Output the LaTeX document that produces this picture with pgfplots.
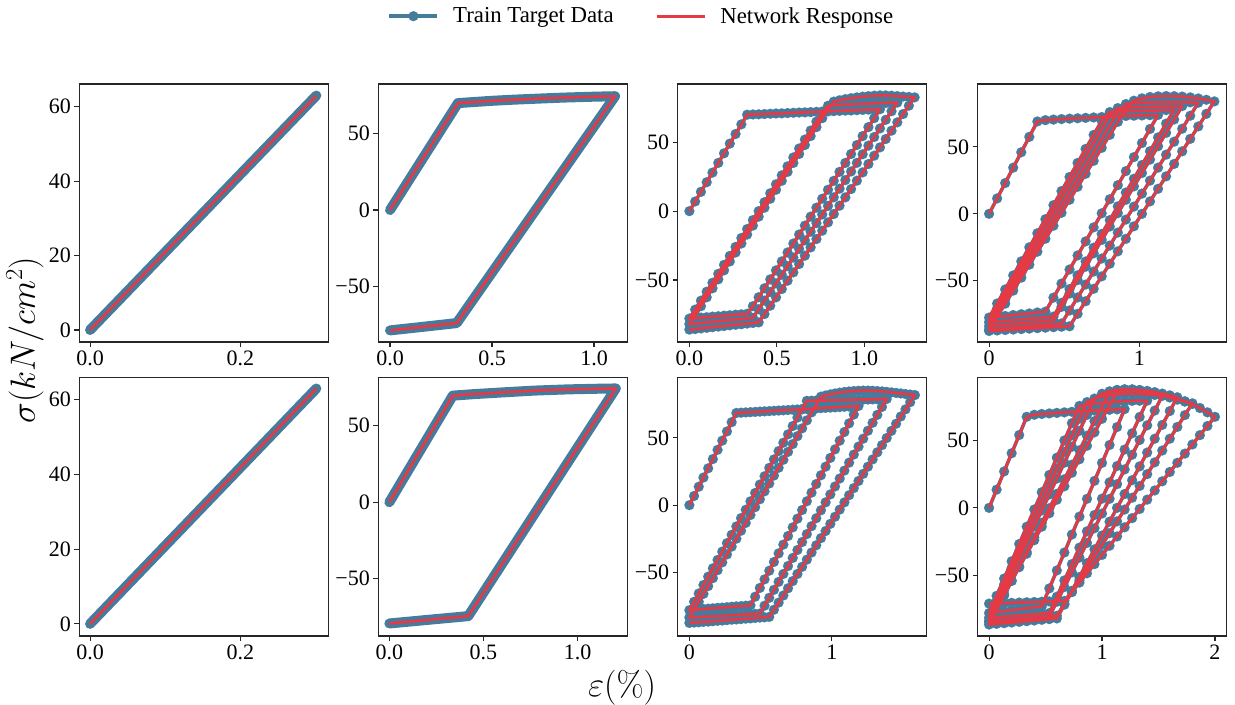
\documentclass[border=0pt]{standalone}
\usepackage{fix-cm}
\usepackage[no-math]{fontspec}
\setmainfont{Liberation Serif}
\usepackage{pgfplots}
\usepackage{pgfplotstable}
\pgfplotsset{compat=1.18}
\definecolor{tblue}{HTML}{457B9D}
\definecolor{tred}{HTML}{E63946}
\pgfplotsset{
 panel/.style={width=249bp, height=258bp, scale only axis, anchor=south west, tick pos=left, tick align=outside, major tick length=5bp,
   axis line style={line width=1.1bp, black!85}, tick style={line width=1.1bp, black!85},
   tick label style={font=\fontsize{22bp}{26bp}\selectfont, black}, clip=true, clip marker paths=true},
 blueband/.style={color=tblue, line width=10bp, line cap=round, line join=round, no marks},
 bluepts/.style={color=tblue, line width=3.5bp, mark=*, mark size=5bp, mark options={solid, fill=tblue, draw=tblue, line width=0.1bp}},
 redline/.style={color=tred, line width=2.7bp, no marks, line join=round},
}
\pgfplotstableread[row sep=\\]{x y\\ 0 0\\ 0.301 63\\}\Pone
\pgfplotstableread[row sep=\\]{x y\\ 0 0\\ 0.333 70\\ 0.4 70.6\\ 0.5 71.5\\ 0.6 72.2\\ 0.72 72.9\\ 0.85 73.6\\ 1.0 74.2\\ 1.103 74.5\\ 0.327 -74\\ 0.16 -76.5\\ 0 -78.8\\}\PtwoT
\pgfplotstableread[row sep=\\]{x y\\ 0 0\\ 0.337 69.7\\ 0.45 70.7\\ 0.6 71.8\\ 0.77 73.0\\ 0.95 73.8\\ 1.1 74.2\\ 1.203 74.4\\ 0.419 -74.5\\ 0.2 -77\\ 0 -79.3\\}\PtwoB
\pgfplotstableread[row sep=\\]{x y\\
0 0\\ 0.033 7\\ 0.066 14\\ 0.099 21\\ 0.132 28\\ 0.165 35\\ 0.198 42\\ 0.231 49\\ 0.264 56\\ 0.297 63\\ 0.33 70\\ 0.363 70.2\\ 0.396 70.3\\ 0.429 70.5\\ 0.462 70.7\\ 0.495 70.9\\ 0.528 71.0\\ 0.561 71.2\\ 0.594 71.4\\ 0.627 71.6\\ 0.66 71.7\\ 0.693 71.9\\ 0.726 72.1\\ 0.759 72.3\\ 0.792 72.4\\ 0.825 72.6\\ 0.858 72.8\\ 0.891 73.0\\ 0.924 73.1\\ 0.957 73.3\\ 0.99 73.5\\ 1.023 73.7\\ 1.056 73.8\\ 1.089 74.0\\
1.056 67.5\\ 1.023 61\\ 0.99 54.5\\ 0.957 48\\ 0.924 41.5\\ 0.891 35\\ 0.858 28.5\\ 0.825 22\\ 0.792 15.5\\ 0.759 9\\ 0.726 2.5\\ 0.693 -4\\ 0.66 -10.5\\ 0.627 -17\\ 0.594 -23.5\\ 0.561 -30\\ 0.528 -36.5\\ 0.495 -43\\ 0.462 -49.5\\ 0.429 -56\\ 0.396 -62.5\\ 0.363 -69\\ 0.33 -74.5\\ 0.297 -74.9\\ 0.264 -75.2\\ 0.231 -75.6\\ 0.198 -75.9\\ 0.165 -76.3\\ 0.132 -76.6\\ 0.099 -77.0\\ 0.066 -77.3\\ 0.033 -77.7\\ 0 -78.0\\
0.033 -71.5\\ 0.066 -65\\ 0.099 -58.5\\ 0.132 -52\\ 0.165 -45.5\\ 0.198 -39\\ 0.231 -32.5\\ 0.264 -26\\ 0.297 -19.5\\ 0.33 -13\\ 0.363 -6.5\\ 0.396 0\\ 0.429 6.5\\ 0.462 13\\ 0.495 19.5\\ 0.528 26\\ 0.561 32.5\\ 0.594 39\\ 0.627 45.5\\ 0.66 52\\ 0.693 58.5\\ 0.726 65\\ 0.759 71.5\\ 0.792 76.5\\ 0.825 76.9\\ 0.858 77.1\\ 0.891 77.3\\ 0.924 77.5\\ 0.957 77.7\\ 0.99 77.9\\ 1.023 78.1\\ 1.056 78.3\\ 1.089 78.4\\ 1.122 78.5\\ 1.155 78.7\\ 1.188 78.8\\
1.155 72.55\\ 1.122 66.3\\ 1.089 60.05\\ 1.056 53.8\\ 1.023 47.55\\ 0.99 41.3\\ 0.957 35.05\\ 0.924 28.8\\ 0.891 22.55\\ 0.858 16.3\\ 0.825 10.05\\ 0.792 3.8\\ 0.759 -2.45\\ 0.726 -8.7\\ 0.693 -14.95\\ 0.66 -21.2\\ 0.627 -27.45\\ 0.594 -33.7\\ 0.561 -39.95\\ 0.528 -46.2\\ 0.495 -52.45\\ 0.462 -58.7\\ 0.429 -64.95\\ 0.396 -71.2\\ 0.363 -77.45\\ 0.33 -77.9\\ 0.297 -78.3\\ 0.264 -78.7\\ 0.231 -79.1\\ 0.198 -79.5\\ 0.165 -79.9\\ 0.132 -80.3\\ 0.099 -80.8\\ 0.066 -81.2\\ 0.033 -81.6\\ 0 -82.0\\
0.033 -75.5\\ 0.066 -69\\ 0.099 -62.5\\ 0.132 -56\\ 0.165 -49.5\\ 0.198 -43\\ 0.231 -36.5\\ 0.264 -30\\ 0.297 -23.5\\ 0.33 -17\\ 0.363 -10.5\\ 0.396 -4\\ 0.429 2.5\\ 0.462 9\\ 0.495 15.5\\ 0.528 22\\ 0.561 28.5\\ 0.594 35\\ 0.627 41.5\\ 0.66 48\\ 0.693 54.5\\ 0.726 61\\ 0.759 67.5\\ 0.792 74\\ 0.825 79.5\\ 0.858 80.5\\ 0.891 81.3\\ 0.924 82.0\\ 0.957 82.6\\ 0.99 83.1\\ 1.023 83.5\\ 1.056 83.8\\ 1.089 84.0\\ 1.122 84.0\\ 1.155 83.8\\ 1.188 83.5\\ 1.221 83.2\\ 1.254 82.9\\ 1.287 82.6\\
1.254 76.55\\ 1.221 70.5\\ 1.188 64.45\\ 1.155 58.4\\ 1.122 52.35\\ 1.089 46.3\\ 1.056 40.25\\ 1.023 34.2\\ 0.99 28.15\\ 0.957 22.1\\ 0.924 16.05\\ 0.891 10.0\\ 0.858 3.95\\ 0.825 -2.1\\ 0.792 -8.15\\ 0.759 -14.2\\ 0.726 -20.25\\ 0.693 -26.3\\ 0.66 -32.35\\ 0.627 -38.4\\ 0.594 -44.45\\ 0.561 -50.5\\ 0.528 -56.55\\ 0.495 -62.6\\ 0.462 -68.65\\ 0.429 -74.7\\ 0.396 -80.75\\ 0.363 -81.2\\ 0.33 -81.6\\ 0.297 -82.1\\ 0.264 -82.5\\ 0.231 -82.9\\ 0.198 -83.4\\ 0.165 -83.8\\ 0.132 -84.25\\ 0.099 -84.7\\ 0.066 -85.1\\ 0.033 -85.6\\ 0 -86.0\\
}\PthreeT
\pgfplotstableread[row sep=\\]{x y\\
0 0\\ 0.0535 11.5\\ 0.107 23\\ 0.1605 34.5\\ 0.214 46\\ 0.2675 57.5\\ 0.321 69\\ 0.3745 70.0\\ 0.428 70.4\\ 0.4815 70.8\\ 0.535 71.1\\ 0.5885 71.4\\ 0.642 71.7\\ 0.6955 72.0\\ 0.749 72.3\\ 0.8025 72.6\\ 0.856 72.9\\ 0.9095 73.1\\ 0.963 73.3\\ 1.0165 73.5\\ 1.07 73.7\\ 1.1235 73.9\\
1.07 63.4\\ 1.0165 52.9\\ 0.963 42.4\\ 0.9095 31.9\\ 0.856 21.4\\ 0.8025 10.9\\ 0.749 0.4\\ 0.6955 -10.1\\ 0.642 -20.6\\ 0.5885 -31.1\\ 0.535 -41.6\\ 0.4815 -52.1\\ 0.428 -62.6\\ 0.3745 -73.1\\ 0.321 -73.7\\ 0.2675 -74.4\\ 0.214 -75.0\\ 0.1605 -75.6\\ 0.107 -76.3\\ 0.0535 -76.9\\ 0 -77.5\\
0.0535 -67\\ 0.107 -56.5\\ 0.1605 -46\\ 0.214 -35.5\\ 0.2675 -25\\ 0.321 -14.5\\ 0.3745 -4\\ 0.428 6.5\\ 0.4815 17\\ 0.535 27.5\\ 0.5885 38\\ 0.642 48.5\\ 0.6955 59\\ 0.749 69.5\\ 0.8025 76\\ 0.856 76.3\\ 0.9095 76.5\\ 0.963 76.7\\ 1.0165 76.9\\ 1.07 77.1\\ 1.1235 77.3\\ 1.177 77.5\\ 1.2305 77.7\\
1.177 67.4\\ 1.1235 57.1\\ 1.07 46.8\\ 1.0165 36.5\\ 0.963 26.2\\ 0.9095 15.9\\ 0.856 5.6\\ 0.8025 -4.7\\ 0.749 -15.0\\ 0.6955 -25.3\\ 0.642 -35.6\\ 0.5885 -45.9\\ 0.535 -56.2\\ 0.4815 -66.5\\ 0.428 -76.8\\ 0.3745 -77.3\\ 0.321 -77.9\\ 0.2675 -78.4\\ 0.214 -78.9\\ 0.1605 -79.4\\ 0.107 -80.0\\ 0.0535 -80.5\\ 0 -81.0\\
0.0535 -70.7\\ 0.107 -60.4\\ 0.1605 -50.1\\ 0.214 -39.8\\ 0.2675 -29.5\\ 0.321 -19.2\\ 0.3745 -8.9\\ 0.428 1.4\\ 0.4815 11.7\\ 0.535 22.0\\ 0.5885 32.3\\ 0.642 42.6\\ 0.6955 52.9\\ 0.749 63.2\\ 0.8025 73.5\\ 0.856 79.0\\ 0.9095 79.3\\ 0.963 79.6\\ 1.0165 79.8\\ 1.07 80.0\\ 1.1235 80.2\\ 1.177 80.3\\ 1.2305 80.4\\ 1.284 80.5\\
1.2305 70.5\\ 1.177 60.5\\ 1.1235 50.5\\ 1.07 40.5\\ 1.0165 30.5\\ 0.963 20.5\\ 0.9095 10.5\\ 0.856 0.5\\ 0.8025 -9.5\\ 0.749 -19.5\\ 0.6955 -29.5\\ 0.642 -39.5\\ 0.5885 -49.5\\ 0.535 -59.5\\ 0.4815 -69.5\\ 0.428 -79.5\\ 0.3745 -80.1\\ 0.321 -80.6\\ 0.2675 -81.2\\ 0.214 -81.75\\ 0.1605 -82.3\\ 0.107 -82.9\\ 0.0535 -83.4\\ 0 -84.0\\
0.0535 -74\\ 0.107 -64\\ 0.1605 -54\\ 0.214 -44\\ 0.2675 -34\\ 0.321 -24\\ 0.3745 -14\\ 0.428 -4\\ 0.4815 6\\ 0.535 16\\ 0.5885 26\\ 0.642 36\\ 0.6955 46\\ 0.749 56\\ 0.8025 66\\ 0.856 76\\ 0.9095 82.0\\ 0.963 82.6\\ 1.0165 83.0\\ 1.07 83.3\\ 1.1235 83.5\\ 1.177 83.6\\ 1.2305 83.6\\ 1.284 83.5\\ 1.3375 83.3\\ 1.391 83.0\\
1.3375 73.3\\ 1.284 63.6\\ 1.2305 53.9\\ 1.177 44.2\\ 1.1235 34.5\\ 1.07 24.8\\ 1.0165 15.1\\ 0.963 5.4\\ 0.9095 -4.3\\ 0.856 -14.0\\ 0.8025 -23.7\\ 0.749 -33.4\\ 0.6955 -43.1\\ 0.642 -52.8\\ 0.5885 -62.5\\ 0.535 -72.2\\ 0.4815 -81.9\\ 0.428 -82.4\\ 0.3745 -82.9\\ 0.321 -83.4\\ 0.2675 -83.9\\ 0.214 -84.5\\ 0.1605 -85.0\\ 0.107 -85.5\\ 0.0535 -86.0\\ 0 -86.5\\
0.0535 -76.8\\ 0.107 -67.1\\ 0.1605 -57.4\\ 0.214 -47.7\\ 0.2675 -38.0\\ 0.321 -28.3\\ 0.3745 -18.6\\ 0.428 -8.9\\ 0.4815 0.8\\ 0.535 10.5\\ 0.5885 20.2\\ 0.642 29.9\\ 0.6955 39.6\\ 0.749 49.3\\ 0.8025 59.0\\ 0.856 68.7\\ 0.9095 78.4\\ 0.963 84.5\\ 1.0165 86.3\\ 1.07 87.3\\ 1.1235 87.8\\ 1.177 88.0\\ 1.2305 87.9\\ 1.284 87.6\\ 1.3375 87.0\\ 1.391 86.2\\ 1.4445 85.2\\ 1.498 84.0\\
1.4445 74.7\\ 1.391 65.3\\ 1.3375 56.0\\ 1.284 46.7\\ 1.2305 37.3\\ 1.177 28.0\\ 1.1235 18.7\\ 1.07 9.3\\ 1.0165 0.0\\ 0.963 -9.3\\ 0.9095 -18.7\\ 0.856 -28.0\\ 0.8025 -37.3\\ 0.749 -46.7\\ 0.6955 -56.0\\ 0.642 -65.3\\ 0.5885 -74.7\\ 0.535 -84.0\\ 0.4815 -84.35\\ 0.428 -84.7\\ 0.3745 -85.05\\ 0.321 -85.4\\ 0.2675 -85.75\\ 0.214 -86.1\\ 0.1605 -86.45\\ 0.107 -86.8\\ 0.0535 -87.15\\ 0 -87.5\\
}\PfourT
\pgfplotstableread[row sep=\\]{x y\\
0 0\\ 0.033 6.85\\ 0.066 13.7\\ 0.099 20.55\\ 0.132 27.4\\ 0.165 34.25\\ 0.198 41.1\\ 0.231 47.95\\ 0.264 54.8\\ 0.297 61.65\\ 0.33 68.5\\ 0.363 68.7\\ 0.396 68.9\\ 0.429 69.1\\ 0.462 69.3\\ 0.495 69.5\\ 0.528 69.7\\ 0.561 69.9\\ 0.594 70.1\\ 0.627 70.3\\ 0.66 70.5\\ 0.693 70.7\\ 0.726 70.9\\ 0.759 71.1\\ 0.792 71.3\\ 0.825 71.5\\ 0.858 71.7\\ 0.891 71.9\\ 0.924 72.1\\ 0.957 72.3\\ 0.99 72.5\\ 1.023 72.7\\ 1.056 72.9\\ 1.089 73.1\\ 1.122 73.3\\ 1.155 73.5\\ 1.188 73.7\\
1.155 67.3\\ 1.122 60.8\\ 1.089 54.4\\ 1.056 47.9\\ 1.023 41.5\\ 0.99 35.1\\ 0.957 28.6\\ 0.924 22.2\\ 0.891 15.7\\ 0.858 9.3\\ 0.825 2.9\\ 0.792 -3.6\\ 0.759 -10.0\\ 0.726 -16.5\\ 0.693 -22.9\\ 0.66 -29.3\\ 0.627 -35.8\\ 0.594 -42.2\\ 0.561 -48.7\\ 0.528 -55.1\\ 0.495 -61.5\\ 0.462 -68.0\\ 0.429 -74.4\\ 0.396 -74.7\\ 0.363 -75.0\\ 0.33 -75.2\\ 0.297 -75.5\\ 0.264 -75.8\\ 0.231 -76.1\\ 0.198 -76.3\\ 0.165 -76.6\\ 0.132 -76.9\\ 0.099 -77.2\\ 0.066 -77.4\\ 0.033 -77.7\\ 0 -78.0\\
0.033 -71.8\\ 0.066 -65.6\\ 0.099 -59.3\\ 0.132 -53.1\\ 0.165 -46.9\\ 0.198 -40.7\\ 0.231 -34.5\\ 0.264 -28.2\\ 0.297 -22.0\\ 0.33 -15.8\\ 0.363 -9.6\\ 0.396 -3.4\\ 0.429 2.9\\ 0.462 9.1\\ 0.495 15.3\\ 0.528 21.5\\ 0.561 27.7\\ 0.594 34.0\\ 0.627 40.2\\ 0.66 46.4\\ 0.693 52.6\\ 0.726 58.8\\ 0.759 65.1\\ 0.792 71.3\\ 0.825 77.5\\ 0.858 77.6\\ 0.891 77.7\\ 0.924 77.75\\ 0.957 77.8\\ 0.99 77.9\\ 1.023 78.0\\ 1.056 78.0\\ 1.089 78.1\\ 1.122 78.2\\ 1.155 78.3\\ 1.188 78.4\\ 1.221 78.45\\ 1.254 78.5\\ 1.287 78.6\\ 1.32 78.7\\ 1.353 78.8\\ 1.386 78.9\\
1.353 73.0\\ 1.32 67.1\\ 1.287 61.2\\ 1.254 55.3\\ 1.221 49.4\\ 1.188 43.5\\ 1.155 37.6\\ 1.122 31.6\\ 1.089 25.7\\ 1.056 19.8\\ 1.023 13.9\\ 0.99 8.0\\ 0.957 2.1\\ 0.924 -3.8\\ 0.891 -9.7\\ 0.858 -15.6\\ 0.825 -21.5\\ 0.792 -27.4\\ 0.759 -33.3\\ 0.726 -39.2\\ 0.693 -45.2\\ 0.66 -51.1\\ 0.627 -57.0\\ 0.594 -62.9\\ 0.561 -68.8\\ 0.528 -74.7\\ 0.495 -80.6\\ 0.462 -80.8\\ 0.429 -81.0\\ 0.396 -81.2\\ 0.363 -81.4\\ 0.33 -81.6\\ 0.297 -81.8\\ 0.264 -82.0\\ 0.231 -82.2\\ 0.198 -82.4\\ 0.165 -82.6\\ 0.132 -82.7\\ 0.099 -82.9\\ 0.066 -83.1\\ 0.033 -83.3\\ 0 -83.5\\
0.033 -77.6\\ 0.066 -71.8\\ 0.099 -65.9\\ 0.132 -60.1\\ 0.165 -54.2\\ 0.198 -48.3\\ 0.231 -42.5\\ 0.264 -36.6\\ 0.297 -30.8\\ 0.33 -24.9\\ 0.363 -19.0\\ 0.396 -13.2\\ 0.429 -7.3\\ 0.462 -1.5\\ 0.495 4.4\\ 0.528 10.3\\ 0.561 16.1\\ 0.594 22.0\\ 0.627 27.8\\ 0.66 33.7\\ 0.693 39.6\\ 0.726 45.4\\ 0.759 51.3\\ 0.792 57.1\\ 0.825 63.0\\ 0.858 68.9\\ 0.891 74.7\\ 0.924 80.6\\ 0.957 81.5\\ 0.99 82.3\\ 1.023 83.0\\ 1.056 83.6\\ 1.089 84.1\\ 1.122 84.5\\ 1.155 84.8\\ 1.188 85.0\\ 1.221 85.1\\ 1.254 85.1\\ 1.287 85.0\\ 1.32 84.8\\ 1.353 84.5\\ 1.386 84.2\\ 1.419 83.8\\ 1.452 83.4\\ 1.485 83.0\\ 1.518 82.6\\ 1.551 82.2\\ 1.584 81.8\\
1.551 76.5\\ 1.518 71.2\\ 1.485 65.9\\ 1.452 60.5\\ 1.419 55.2\\ 1.386 49.9\\ 1.353 44.6\\ 1.32 39.3\\ 1.287 34.0\\ 1.254 28.6\\ 1.221 23.3\\ 1.188 18.0\\ 1.155 12.7\\ 1.122 7.4\\ 1.089 2.1\\ 1.056 -3.3\\ 1.023 -8.6\\ 0.99 -13.9\\ 0.957 -19.2\\ 0.924 -24.5\\ 0.891 -29.8\\ 0.858 -35.2\\ 0.825 -40.5\\ 0.792 -45.8\\ 0.759 -51.1\\ 0.726 -56.4\\ 0.693 -61.7\\ 0.66 -67.1\\ 0.627 -72.4\\ 0.594 -77.7\\ 0.561 -83.0\\ 0.528 -83.3\\ 0.495 -83.5\\ 0.462 -83.8\\ 0.429 -84.1\\ 0.396 -84.3\\ 0.363 -84.6\\ 0.33 -84.9\\ 0.297 -85.1\\ 0.264 -85.4\\ 0.231 -85.7\\ 0.198 -85.9\\ 0.165 -86.2\\ 0.132 -86.5\\ 0.099 -86.7\\ 0.066 -87.0\\ 0.033 -87.2\\ 0 -87.5\\
}\PthreeB
\pgfplotstableread[row sep=\\]{x y\\
0 0\\ 0.0667 13.5\\ 0.1333 27\\ 0.2 40.5\\ 0.2667 54\\ 0.3333 67.5\\ 0.4 69.0\\ 0.4667 69.6\\ 0.5333 70.0\\ 0.6 70.4\\ 0.6667 70.8\\ 0.7333 71.2\\ 0.8 71.5\\ 0.8667 71.8\\ 0.9333 72.1\\ 1.0 72.4\\ 1.0667 72.7\\ 1.1333 73.0\\ 1.2 73.2\\
1.1333 59.9\\ 1.0667 46.6\\ 1.0 33.3\\ 0.9333 20.0\\ 0.8667 6.7\\ 0.8 -6.5\\ 0.7333 -19.8\\ 0.6667 -33.1\\ 0.6 -46.4\\ 0.5333 -59.7\\ 0.4667 -73.0\\ 0.4 -73.7\\ 0.3333 -74.4\\ 0.2667 -75.1\\ 0.2 -75.9\\ 0.1333 -76.6\\ 0.0667 -77.3\\ 0 -78.0\\
0.0667 -65.2\\ 0.1333 -52.4\\ 0.2 -39.6\\ 0.2667 -26.8\\ 0.3333 -14.0\\ 0.4 -1.2\\ 0.4667 11.6\\ 0.5333 24.4\\ 0.6 37.2\\ 0.6667 50.0\\ 0.7333 62.8\\ 0.8 75.6\\ 0.8667 76.6\\ 0.9333 77.3\\ 1.0 77.9\\ 1.0667 78.4\\ 1.1333 78.8\\ 1.2 79.1\\ 1.2667 79.3\\ 1.3333 79.4\\ 1.4 79.5\\
1.3333 67.4\\ 1.2667 55.3\\ 1.2 43.2\\ 1.1333 31.0\\ 1.0667 18.9\\ 1.0 6.8\\ 0.9333 -5.3\\ 0.8667 -17.4\\ 0.8 -29.5\\ 0.7333 -41.7\\ 0.6667 -53.8\\ 0.6 -65.9\\ 0.5333 -78.0\\ 0.4667 -78.4\\ 0.4 -78.9\\ 0.3333 -79.3\\ 0.2667 -79.75\\ 0.2 -80.2\\ 0.1333 -80.6\\ 0.0667 -81.1\\ 0 -81.5\\
0.0667 -69.2\\ 0.1333 -56.9\\ 0.2 -44.6\\ 0.2667 -32.3\\ 0.3333 -20.0\\ 0.4 -7.7\\ 0.4667 4.6\\ 0.5333 16.9\\ 0.6 29.2\\ 0.6667 41.5\\ 0.7333 53.8\\ 0.8 66.1\\ 0.8667 78.4\\ 0.9333 81.0\\ 1.0 82.6\\ 1.0667 83.6\\ 1.1333 84.2\\ 1.2 84.5\\ 1.2667 84.6\\ 1.3333 84.5\\ 1.4 84.2\\ 1.4667 83.7\\ 1.5333 83.0\\
1.4667 72.1\\ 1.4 61.2\\ 1.3333 50.3\\ 1.2667 39.4\\ 1.2 28.5\\ 1.1333 17.6\\ 1.0667 6.7\\ 1.0 -4.2\\ 0.9333 -15.1\\ 0.8667 -26.0\\ 0.8 -36.9\\ 0.7333 -47.8\\ 0.6667 -58.7\\ 0.6 -69.6\\ 0.5333 -80.5\\ 0.4667 -81.0\\ 0.4 -81.5\\ 0.3333 -82.0\\ 0.2667 -82.5\\ 0.2 -83.0\\ 0.1333 -83.5\\ 0.0667 -84.0\\ 0 -84.5\\
0.0667 -72.7\\ 0.1333 -60.9\\ 0.2 -49.1\\ 0.2667 -37.3\\ 0.3333 -25.5\\ 0.4 -13.7\\ 0.4667 -1.9\\ 0.5333 9.9\\ 0.6 21.7\\ 0.6667 33.5\\ 0.7333 45.3\\ 0.8 57.1\\ 0.8667 68.9\\ 0.9333 80.7\\ 1.0 84.6\\ 1.0667 86.4\\ 1.1333 87.4\\ 1.2 87.8\\ 1.2667 87.8\\ 1.3333 87.4\\ 1.4 86.7\\ 1.4667 85.8\\ 1.5333 84.7\\ 1.6 83.4\\ 1.6667 82.0\\
1.6 71.75\\ 1.5333 61.5\\ 1.4667 51.25\\ 1.4 41.0\\ 1.3333 30.75\\ 1.2667 20.5\\ 1.2 10.25\\ 1.1333 0.0\\ 1.0667 -10.25\\ 1.0 -20.5\\ 0.9333 -30.75\\ 0.8667 -41.0\\ 0.8 -51.25\\ 0.7333 -61.5\\ 0.6667 -71.75\\ 0.6 -82.0\\ 0.5333 -82.5\\ 0.4667 -83.0\\ 0.4 -83.5\\ 0.3333 -84.0\\ 0.2667 -84.5\\ 0.2 -85.0\\ 0.1333 -85.5\\ 0.0667 -86.0\\ 0 -86.5\\
0.0667 -75.7\\ 0.1333 -65.0\\ 0.2 -54.2\\ 0.2667 -43.4\\ 0.3333 -32.7\\ 0.4 -21.9\\ 0.4667 -11.1\\ 0.5333 -0.3\\ 0.6 10.4\\ 0.6667 21.2\\ 0.7333 32.0\\ 0.8 42.7\\ 0.8667 53.5\\ 0.9333 64.3\\ 1.0 75.0\\ 1.0667 85.8\\ 1.1333 87.3\\ 1.2 87.9\\ 1.2667 87.8\\ 1.3333 87.2\\ 1.4 86.2\\ 1.4667 84.9\\ 1.5333 83.4\\ 1.6 81.8\\ 1.6667 80.2\\ 1.7333 78.8\\ 1.8 77.5\\
1.7333 68.75\\ 1.6667 60.0\\ 1.6 51.25\\ 1.5333 42.5\\ 1.4667 33.75\\ 1.4 25.0\\ 1.3333 16.25\\ 1.2667 7.5\\ 1.2 -1.25\\ 1.1333 -10.0\\ 1.0667 -18.75\\ 1.0 -27.5\\ 0.9333 -36.25\\ 0.8667 -45.0\\ 0.8 -53.75\\ 0.7333 -62.5\\ 0.6667 -71.25\\ 0.6 -80.0\\ 0.5333 -80.4\\ 0.4667 -80.9\\ 0.4 -81.3\\ 0.3333 -81.8\\ 0.2667 -82.2\\ 0.2 -82.7\\ 0.1333 -83.1\\ 0.0667 -83.6\\ 0 -84.0\\
0.0667 -74.0\\ 0.1333 -64.0\\ 0.2 -54.0\\ 0.2667 -44.0\\ 0.3333 -34.0\\ 0.4 -24.0\\ 0.4667 -14.0\\ 0.5333 -4.0\\ 0.6 6.0\\ 0.6667 16.0\\ 0.7333 26.0\\ 0.8 36.0\\ 0.8667 46.0\\ 0.9333 56.0\\ 1.0 66.0\\ 1.0667 76.0\\ 1.1333 86.0\\ 1.2 87.0\\ 1.2667 87.2\\ 1.3333 86.8\\ 1.4 86.0\\ 1.4667 85.0\\ 1.5333 83.8\\ 1.6 82.4\\ 1.6667 80.8\\ 1.7333 79.0\\ 1.8 77.0\\ 1.8667 74.0\\ 1.9333 70.8\\ 2.0 67.5\\
1.9333 60.7\\ 1.8667 53.9\\ 1.8 47.0\\ 1.7333 40.2\\ 1.6667 33.4\\ 1.6 26.6\\ 1.5333 19.7\\ 1.4667 12.9\\ 1.4 6.1\\ 1.3333 -0.8\\ 1.2667 -7.6\\ 1.2 -14.4\\ 1.1333 -21.2\\ 1.0667 -28.1\\ 1.0 -34.9\\ 0.9333 -41.7\\ 0.8667 -48.5\\ 0.8 -55.4\\ 0.7333 -62.2\\ 0.6667 -69.0\\ 0.6 -69.2\\ 0.5333 -69.4\\ 0.4667 -69.6\\ 0.4 -69.8\\ 0.3333 -70.0\\ 0.2667 -70.2\\ 0.2 -70.4\\ 0.1333 -70.6\\ 0.0667 -70.8\\ 0 -71.0\\
}\PfourB
\begin{document}
\begin{tikzpicture}
\useasboundingbox (0bp,0bp) rectangle (1235bp,705bp);
% legend holder
\begin{axis}[at={(0bp,0bp)}, anchor=south west, width=1235bp, height=705bp, scale only axis, hide axis,
  xmin=0, xmax=1, ymin=0, ymax=1, legend columns=2,
  legend style={at={(0.5194,0.977)}, anchor=center, draw=none, fill=none, font=\fontsize{22.8bp}{27bp}\selectfont,
    /tikz/every odd column/.append style={column sep=12bp},
    /tikz/every even column/.append style={column sep=40bp}},
  legend image code/.code={\draw[mark repeat=2,mark phase=2,#1] plot coordinates {(0bp,0bp) (24bp,0bp) (48bp,0bp)};}]
\addlegendimage{bluepts}
\addlegendentry{Train Target Data}
\addlegendimage{redline}
\addlegendentry{Network Response}
\end{axis}
% row 1
\begin{axis}[panel, at={(79.3bp,363bp)}, xmin=-0.0143, xmax=0.3169, ymin=-3.22, ymax=66.1,
  xtick={0,0.2}, xticklabels={0.0,0.2}, ytick={0,20,40,60}, yticklabels={0,20,40,60}]
\addplot[blueband] table {\Pone};
\addplot[redline] table {\Pone};
\end{axis}
\begin{axis}[panel, at={(378.3bp,363bp)}, xmin=-0.0574, xmax=1.163, ymin=-86.4, ymax=82.5,
  xtick={0,0.5,1}, xticklabels={0.0,0.5,1.0}, ytick={-50,0,50}, yticklabels={−50,0,50}]
\addplot[blueband] table {\PtwoT};
\addplot[redline] table {\PtwoT};
\end{axis}
\begin{axis}[panel, at={(677.7bp,363bp)}, xmin=-0.0667, xmax=1.356, ymin=-95, ymax=92.3,
  xtick={0,0.5,1}, xticklabels={0.0,0.5,1.0}, ytick={-50,0,50}, yticklabels={−50,0,50}]
\addplot[bluepts] table {\PthreeT};
\addplot[redline] table {\PthreeT};
\end{axis}
\begin{axis}[panel, at={(977.7bp,363bp)}, xmin=-0.0756, xmax=1.58, ymin=-95.75, ymax=97,
  xtick={0,1}, xticklabels={0,1}, ytick={-50,0,50}, yticklabels={−50,0,50}]
\addplot[bluepts] table {\PfourT};
\addplot[redline] table {\PfourT};
\end{axis}
% row 2
\begin{axis}[panel, height=258.7bp, at={(79.3bp,69bp)}, xmin=-0.0143, xmax=0.3169, ymin=-3.24, ymax=66.0,
  xtick={0,0.2}, xticklabels={0.0,0.2}, ytick={0,20,40,60}, yticklabels={0,20,40,60}]
\addplot[blueband] table {\Pone};
\addplot[redline] table {\Pone};
\end{axis}
\begin{axis}[panel, height=258.7bp, at={(378.3bp,69bp)}, xmin=-0.0586, xmax=1.264, ymin=-87.5, ymax=81.7,
  xtick={0,0.5,1}, xticklabels={0.0,0.5,1.0}, ytick={-50,0,50}, yticklabels={−50,0,50}]
\addplot[blueband] table {\PtwoB};
\addplot[redline] table {\PtwoB};
\end{axis}
\begin{axis}[panel, height=258.7bp, at={(677.7bp,69bp)}, xmin=-0.082, xmax=1.667, ymin=-97.2, ymax=95,
  xtick={0,1}, xticklabels={0,1}, ytick={-50,0,50}, yticklabels={−50,0,50}]
\addplot[bluepts] table {\PthreeB};
\addplot[redline] table {\PthreeB};
\end{axis}
\begin{axis}[panel, height=258.7bp, at={(977.7bp,69bp)}, xmin=-0.1006, xmax=2.104, ymin=-95, ymax=96.8,
  xtick={0,1,2}, xticklabels={0,1,2}, ytick={-50,0,50}, yticklabels={−50,0,50}]
\addplot[bluepts] table {\PfourB};
\addplot[redline] table {\PfourB};
\end{axis}
\node[rotate=90, font=\fontsize{35bp}{40bp}\selectfont] at (25bp,365bp) {$\sigma(kN/cm^2)$};
\node[font=\fontsize{35bp}{40bp}\selectfont] at (622bp,17bp) {$\varepsilon(\%)$};
\end{tikzpicture}
\end{document}
